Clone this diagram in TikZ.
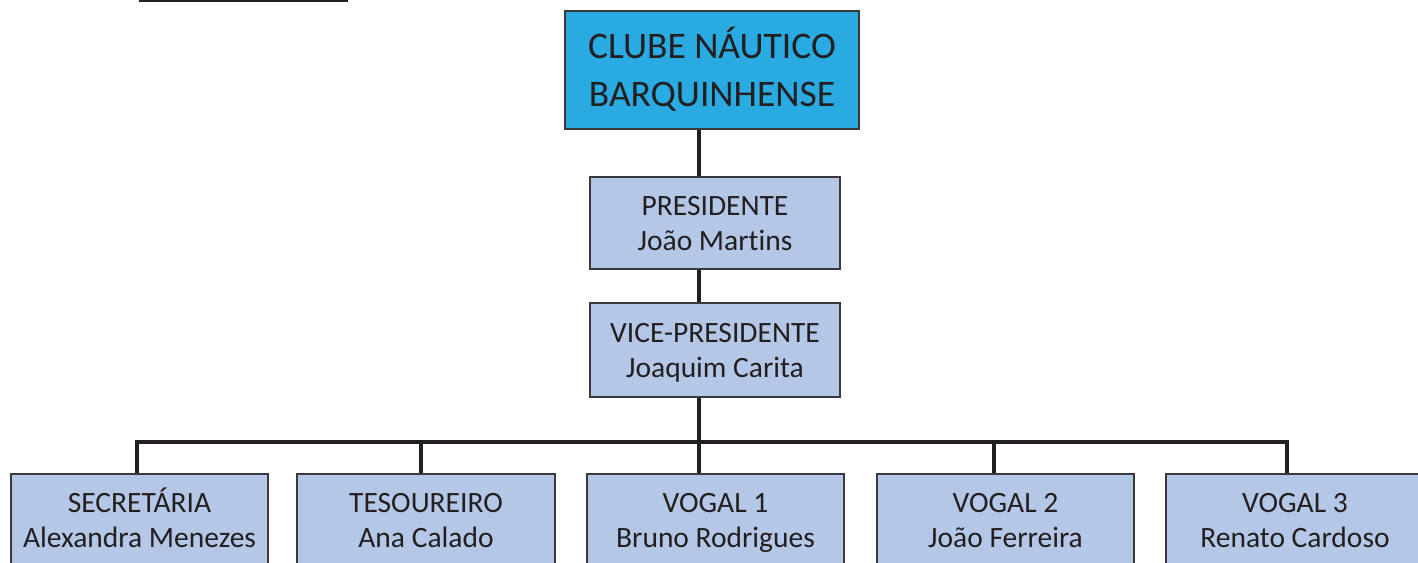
\documentclass[tikz,border=0pt]{standalone}
\usepackage{fontspec}
\setmainfont[Ligatures=NoCommon]{Carlito}
\definecolor{topfill}{HTML}{29ABE2}
\definecolor{boxfill}{HTML}{B4C7E7}
\definecolor{edge}{HTML}{3A3A3A}
\definecolor{link}{HTML}{231F20}
\newcommand\rowA{\vphantom{ÁÃ}}
\newcommand\rowB{\vphantom{gjÃ}}
\begin{document}
\begin{tikzpicture}[x=1pt,y=-1pt,
  orgbox/.style={draw=edge, line width=1.2pt, fill=boxfill, text=link, align=center, inner sep=0pt,
     font=\fontsize{29.5}{35}\selectfont},
  topbox/.style={orgbox, fill=topfill, font=\fontsize{37.5}{48}\selectfont},
  conn/.style={draw=link, line width=3.6pt},
]
\useasboundingbox (0,0) rectangle (1418,562);
\clip (0,0) rectangle (1418,562);
\path[draw=link, line width=1.6pt] (139,0.8) -- (348,0.8);

\node[topbox, minimum width=294pt, minimum height=118pt] (club) at (712,70) {\rowA CLUBE NÁUTICO\\\rowB BARQUINHENSE};
\node[orgbox, minimum width=250pt, minimum height=92pt] (pres) at (715,223) {\rowA PRESIDENTE\\\rowB João Martins};
\node[orgbox, minimum width=250pt, minimum height=94pt] (vp) at (715,350) {\rowA VICE-PRESIDENTE\\\rowB Joaquim Carita};

\node[orgbox, minimum width=257pt, minimum height=92pt] (sec) at (139.5,520) {\rowA SECRETÁRIA\\\rowB Alexandra Menezes};
\node[orgbox, minimum width=258pt, minimum height=92pt] (tes) at (426,520) {\rowA TESOUREIRO\\\rowB Ana Calado};
\node[orgbox, minimum width=257pt, minimum height=92pt] (v1) at (715.5,520) {\rowA VOGAL 1\\\rowB Bruno Rodrigues};
\node[orgbox, minimum width=257pt, minimum height=92pt] (v2) at (1005.5,520) {\rowA VOGAL 2\\\rowB João Ferreira};
\node[orgbox, minimum width=258pt, minimum height=92pt] (v3) at (1295,520) {\rowA VOGAL 3\\\rowB Renato Cardoso};

\coordinate (spine) at (699,442);
\coordinate (b1) at (137,442);
\coordinate (b2) at (421,442);
\coordinate (b4) at (994,442);
\coordinate (b5) at (1287,442);

\path[conn] (club.south -| spine) -- (pres.north -| spine);
\path[conn] (pres.south -| spine) -- (vp.north -| spine);
\path[conn] (vp.south -| spine) -- (spine);
\path[conn, line cap=rect] (b1) -- (b5);
\path[conn] (b1) -- (sec.north -| b1);
\path[conn] (b2) -- (tes.north -| b2);
\path[conn] (spine) -- (v1.north -| spine);
\path[conn] (b4) -- (v2.north -| b4);
\path[conn] (b5) -- (v3.north -| b5);
\end{tikzpicture}
\end{document}
